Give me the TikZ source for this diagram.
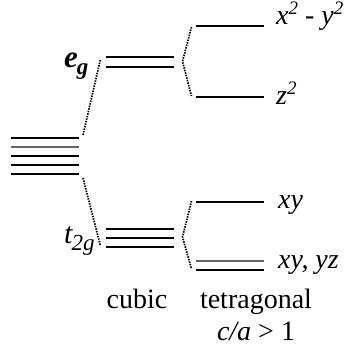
\documentclass[tikz,border=0pt]{standalone}
\usepackage{fontspec}
\setmainfont{Liberation Serif}
\newcommand{\subtxt}[1]{\raisebox{-7pt}{\fontsize{23}{23}\selectfont #1}}
\newcommand{\suptxt}[1]{\raisebox{10pt}{\fontsize{19}{19}\selectfont #1}}
\begin{document}
\begin{tikzpicture}[x=1pt,y=-1pt,
  lvl/.style={line width=1.4pt,black},
  lvlg/.style={line width=1.4pt,black!60},
  conn/.style={line width=1.7pt,dash pattern=on 1.5pt off 1.1pt},
  lab/.style={inner sep=0pt,anchor=base west,font=\fontsize{28}{32}\selectfont},
  captxt/.style={inner sep=0pt,anchor=base,font=\fontsize{28}{32}\selectfont}]
\useasboundingbox (0,0) rectangle (345,346);
% free level (five-fold)
\coordinate (f1a) at (11,138); \coordinate (f1b) at (79,138);
\coordinate (f2a) at (11,147); \coordinate (f2b) at (79,147);
\coordinate (f3a) at (11,156); \coordinate (f3b) at (79,156);
\coordinate (f4a) at (11,165); \coordinate (f4b) at (79,165);
\coordinate (f5a) at (11,174); \coordinate (f5b) at (79,174);
\draw[line width=2pt] (f1a) -- (f1b);
\draw[lvlg] (f2a) -- (f2b);
\draw[lvl] (f3a) -- (f3b);
\draw[lvl] (f4a) -- (f4b);
\draw[lvl] (f5a) -- (f5b);
% cubic eg
\coordinate (e1a) at (106,57); \coordinate (e1b) at (174,57);
\coordinate (e2a) at (106,67); \coordinate (e2b) at (174,67);
\draw[lvl] (e1a) -- (e1b);
\draw[lvl] (e2a) -- (e2b);
% cubic t2g
\coordinate (t1a) at (106,229); \coordinate (t1b) at (174,229);
\coordinate (t2a) at (106,238); \coordinate (t2b) at (174,238);
\coordinate (t3a) at (106,247); \coordinate (t3b) at (174,247);
\draw[lvl] (t1a) -- (t1b);
\draw[lvl] (t2a) -- (t2b);
\draw[lvl] (t3a) -- (t3b);
% tetragonal levels
\coordinate (xa) at (196,26); \coordinate (xb) at (264,26);
\coordinate (za) at (196,97); \coordinate (zb) at (264,97);
\coordinate (ya) at (196,202); \coordinate (yb) at (264,202);
\coordinate (d1a) at (196,261); \coordinate (d1b) at (264,261);
\coordinate (d2a) at (196,270); \coordinate (d2b) at (264,270);
\draw[lvl] (xa) -- (xb);
\draw[lvl] (za) -- (zb);
\draw[lvl] (ya) -- (yb);
\draw[lvlg] (d1a) -- (d1b);
\draw[lvl] (d2a) -- (d2b);
% connectors
\coordinate (c1s) at (83,135); \coordinate (c1e) at (100.5,59);
\coordinate (c2s) at (83,178); \coordinate (c2e) at (100.5,246);
\draw[conn] (c1s) -- (c1e);
\draw[conn] (c2s) -- (c2e);
\coordinate (b1t) at (191.5,27); \coordinate (b1m) at (182.5,61.5); \coordinate (b1b) at (191.5,96);
\coordinate (b2t) at (191.5,201); \coordinate (b2m) at (182.5,237); \coordinate (b2b) at (191.5,269);
\draw[conn] (b1t) -- (b1m) -- (b1b);
\draw[conn] (b2t) -- (b2m) -- (b2b);
% labels
\node[lab,font=\fontsize{31}{34}\selectfont] (eg) at (64,67) {\bfseries\itshape e\kern-1pt\subtxt{g}};
\node[lab,font=\fontsize{30}{34}\selectfont] (tg) at (64,243) {\itshape t\kern-1pt\subtxt{2g}};
\node[lab] (lx) at (276,24) {\itshape x\suptxt{2} - y\suptxt{2}};
\node[lab] (lz) at (276,104) {\itshape z\suptxt{2}};
\node[lab] (lxy) at (278,208) {\itshape xy};
\node[lab] (lyz) at (278,268) {\itshape xy, yz};
\node[captxt] (cub) at (137,308) {cubic};
\node[captxt] (tet) at (256,308) {tetragonal};
\node[captxt] (ca) at (256,340) {\textit{c/a} > 1};
\end{tikzpicture}
\end{document}
